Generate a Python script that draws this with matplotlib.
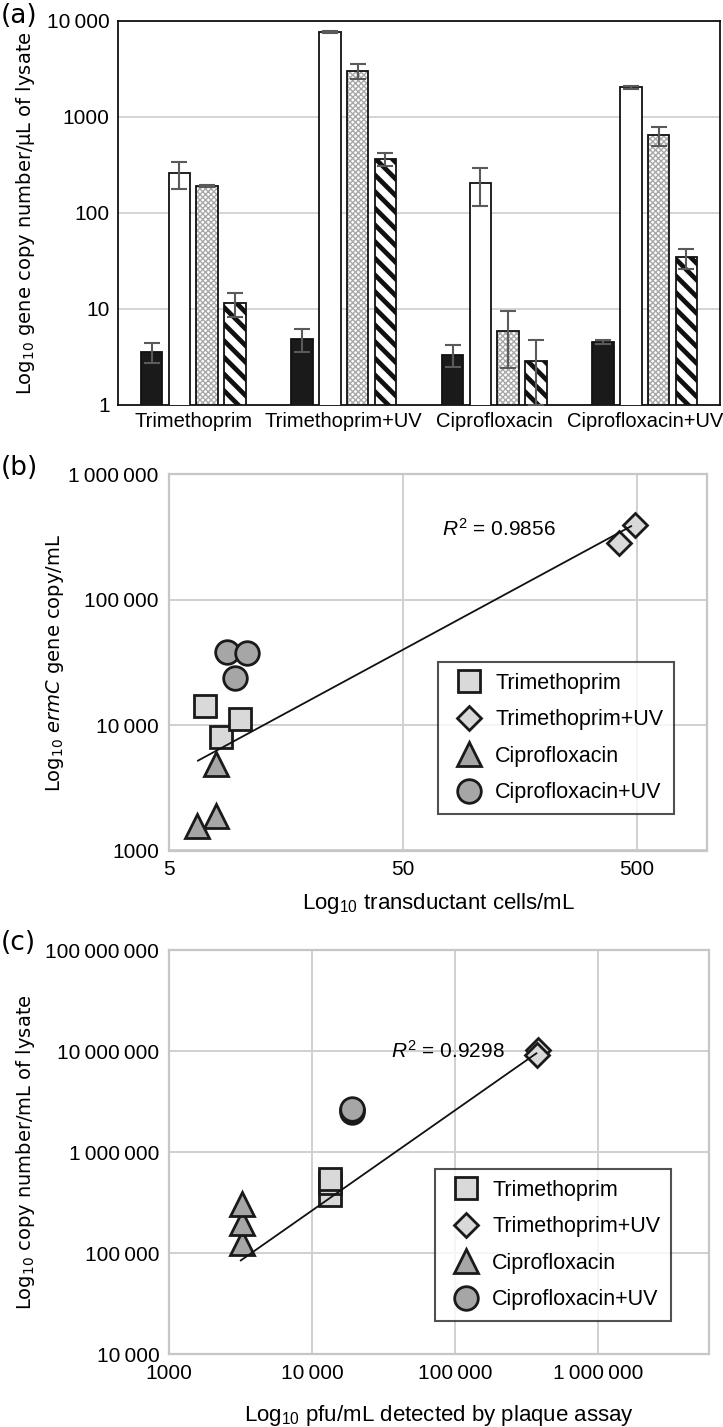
import numpy as np
import matplotlib
matplotlib.use('Agg')
import matplotlib.pyplot as plt
from matplotlib import font_manager as fm
from matplotlib.lines import Line2D
from matplotlib.ticker import NullLocator, FixedLocator, FixedFormatter

names = {f.name for f in fm.fontManager.ttflist}
SANS = 'Liberation Sans' if 'Liberation Sans' in names else 'DejaVu Sans'
ROUND = 'DejaVu Sans'
plt.rcParams['mathtext.fontset'] = 'custom'
plt.rcParams['mathtext.rm'] = SANS
plt.rcParams['mathtext.it'] = SANS + ':italic'
plt.rcParams['font.family'] = [SANS, 'DejaVu Sans']

# ---------------- data: panel (a) ----------------
categories = ['Trimethoprim', 'Trimethoprim+UV', 'Ciprofloxacin', 'Ciprofloxacin+UV']
bar_black = [3.6, 4.9, 3.35, 4.5]
bar_black_sd = [0.85, 1.3, 0.85, 0.23]
bar_white = [259, 7550, 205, 2030]
bar_white_sd = [80, 180, 87, 65]
bar_dots = [192, 3000, 5.95, 645]
bar_dots_sd = [4, 535, 3.55, 145]
bar_stripes = [11.4, 365, 2.85, 34.3]
bar_stripes_sd = [3.1, 57, 1.85, 8.0]
a_ticks = [1, 10, 100, 1000, 10000]
a_ticklabels = ['1', '10', '100', '1000', '10\u2009000']

# ---------------- data: panel (b) ----------------
b_trim_x = [7.16, 8.38, 10.1]
b_trim_y = [14200, 8040, 11200]
b_trimuv_x = [421, 492]
b_trimuv_y = [282000, 395000]
b_cipro_x = [7.95, 7.95, 6.63]
b_cipro_y = [4900, 1890, 1570]
b_ciprouv_x = [8.89, 10.82, 9.62]
b_ciprouv_y = [38300, 37600, 23800]
b_trend_x = [6.68, 473]
b_trend_y = [5210, 387000]
b_r2 = '0.9856'
b_xticks = [5, 50, 500]
b_xticklabels = ['5', '50', '500']
b_yticks = [1000, 10000, 100000, 1000000]
b_yticklabels = ['1000', '10\u2009000', '100\u2009000', '1\u2009000\u2009000']

# ---------------- data: panel (c) ----------------
c_trim_x = [13400, 13400, 13400]
c_trim_y = [378000, 493000, 545000]
c_trimuv_x = [383000, 378000]
c_trimuv_y = [10200000, 9200000]
c_cipro_x = [3220, 3220, 3220]
c_cipro_y = [127000, 198000, 310000]
c_ciprouv_x = [19100, 19100, 19100]
c_ciprouv_y = [2520000, 2600000, 2670000]
c_trend_x = [3180, 372000]
c_trend_y = [85000, 9550000]
c_r2 = '0.9298'
c_xticks = [1000, 10000, 100000, 1000000]
c_xticklabels = ['1000', '10\u2009000', '100\u2009000', '1\u2009000\u2009000']
c_yticks = [10000, 100000, 1000000, 10000000, 100000000]
c_yticklabels = ['10\u2009000', '100\u2009000', '1\u2009000\u2009000',
                 '10\u2009000\u2009000', '100\u2009000\u2009000']

series_names = ['Trimethoprim', 'Trimethoprim+UV', 'Ciprofloxacin', 'Ciprofloxacin+UV']

W, H = 723, 1427
fig = plt.figure(figsize=(W / 100, H / 100), dpi=100)


def fx(px):
    return px / W


def fy(py):
    return 1 - py / H


def axes_px(l, t, r, b):
    return fig.add_axes([fx(l), fy(b), (r - l) / W, (b - t) / H])


# ================= panel (a) =================
axA = axes_px(118, 20.7, 720, 405)
axA.set_yscale('log')
axA.set_ylim(1, 10000)
axA.set_xlim(-0.5, 3.5)
x = np.arange(len(categories))
offs = [-0.276, -0.092, 0.092, 0.276]
bw = 0.143


def draw_bars(xpos, vals, sd, face, hatch=None, hcolor=None, hlw=1.0):
    if hatch is not None:
        with plt.rc_context({'hatch.linewidth': hlw}):
            base = axA.bar(xpos, vals, bw, color=face, edgecolor=hcolor,
                           linewidth=0, hatch=hatch, zorder=2)
        for p in base:
            if hasattr(p, 'set_hatch_linewidth'):
                p.set_hatch_linewidth(hlw)
        axA.bar(xpos, vals, bw, facecolor='none', edgecolor='#111111',
                linewidth=1.3, zorder=3)
    else:
        axA.bar(xpos, vals, bw, color=face, edgecolor='#111111',
                linewidth=1.3, zorder=3)
    axA.errorbar(xpos, vals, yerr=sd, fmt='none', ecolor='#5a5a5a',
                 elinewidth=1.5, capsize=5.5, capthick=1.5, zorder=5)


draw_bars(x + offs[0], bar_black, bar_black_sd, '#1a1a1a')
draw_bars(x + offs[1], bar_white, bar_white_sd, 'white')
draw_bars(x + offs[2], bar_dots, bar_dots_sd, 'white', hatch='xxxxxx',
          hcolor='#a8a8a8', hlw=1.0)
draw_bars(x + offs[3], bar_stripes, bar_stripes_sd, 'white', hatch='\\\\',
          hcolor='#111111', hlw=3.4)

axA.yaxis.set_major_locator(FixedLocator(a_ticks))
axA.yaxis.set_major_formatter(FixedFormatter(a_ticklabels))
axA.yaxis.set_minor_locator(NullLocator())
axA.set_xticks(x)
axA.set_xticklabels(categories, fontsize=14.5)
axA.tick_params(axis='y', length=0, labelsize=15, pad=6)
axA.tick_params(axis='x', length=0, pad=5)
axA.yaxis.grid(True, color='#d4d4d4', lw=1.4)
axA.set_axisbelow(True)
for s in axA.spines.values():
    s.set_color('#111111')
    s.set_linewidth(1.3)

fig.text(fx(26), fy(213), 'Log$_{10}$ gene copy number/\u00b5L of lysate',
         rotation=90, ha='center', va='center', fontsize=14,
         fontfamily=ROUND, math_fontfamily='dejavusans')

# ================= scatter panels =================
styles = {
    'Trimethoprim': dict(marker='s', ms=16, mfc='#d9d9d9'),
    'Trimethoprim+UV': dict(marker='D', ms=12, mfc='#d9d9d9'),
    'Ciprofloxacin': dict(marker='^', ms=17, mfc='#a6a6a6'),
    'Ciprofloxacin+UV': dict(marker='o', ms=17, mfc='#a6a6a6'),
}


def style_scatter(ax, xlim, ylim, xt, xtl, yt, ytl):
    ax.set_xscale('log')
    ax.set_yscale('log')
    ax.set_xlim(*xlim)
    ax.set_ylim(*ylim)
    ax.xaxis.set_major_locator(FixedLocator(xt))
    ax.xaxis.set_major_formatter(FixedFormatter(xtl))
    ax.yaxis.set_major_locator(FixedLocator(yt))
    ax.yaxis.set_major_formatter(FixedFormatter(ytl))
    ax.xaxis.set_minor_locator(NullLocator())
    ax.yaxis.set_minor_locator(NullLocator())
    ax.tick_params(axis='both', length=0, labelsize=15)
    ax.tick_params(axis='x', pad=7)
    ax.tick_params(axis='y', pad=7)
    ax.grid(True, color='#d0d0d0', lw=1.4)
    ax.set_axisbelow(True)
    for s in ax.spines.values():
        s.set_color('#c6c6c6')
        s.set_linewidth(1.6)


def plot_series(ax, xs, ys, name):
    st = styles[name]
    ax.plot(xs, ys, ls='none', marker=st['marker'], ms=st['ms'],
            mfc=st['mfc'], mec='#1a1a1a', mew=2.0, zorder=3)


def add_legend(ax, left_px, top_px):
    handles = [Line2D([], [], ls='none', marker=styles[n]['marker'],
                      ms=styles[n]['ms'], mfc=styles[n]['mfc'],
                      mec='#1a1a1a', mew=2.0) for n in series_names]
    leg = fig.legend(handles, series_names, loc='upper left',
                     bbox_to_anchor=(fx(left_px), fy(top_px)),
                     bbox_transform=fig.transFigure, frameon=True,
                     fancybox=False, fontsize=15.5, handlelength=1.88,
                     handletextpad=0.27, labelspacing=0.72, borderpad=0.5,
                     borderaxespad=0)
    fr = leg.get_frame()
    fr.set_edgecolor('#262626')
    fr.set_linewidth(1.5)
    fr.set_facecolor('white')
    return leg


# ---- (b)
axB = axes_px(168.5, 474.5, 707.3, 850.5)
style_scatter(axB, (5, 1000), (1000, 1e6), b_xticks, b_xticklabels,
              b_yticks, b_yticklabels)
plot_series(axB, b_trim_x, b_trim_y, 'Trimethoprim')
plot_series(axB, b_trimuv_x, b_trimuv_y, 'Trimethoprim+UV')
plot_series(axB, b_cipro_x, b_cipro_y, 'Ciprofloxacin')
plot_series(axB, b_ciprouv_x, b_ciprouv_y, 'Ciprofloxacin+UV')
axB.plot(b_trend_x, b_trend_y, color='#111111', lw=1.3, zorder=4)
axB.text(73.3, 367000, '$R^{2}$ = ' + b_r2, fontsize=15, ha='left',
         va='center', zorder=5)
add_legend(axB, 438, 662)
fig.text(fx(55), fy(663), 'Log$_{10}$ $\\mathit{ermC}$ gene copy/mL',
         rotation=90, ha='center', va='center', fontsize=14,
         fontfamily=ROUND, math_fontfamily='dejavusans')
fig.text(fx(438), fy(903), 'Log$_{10}$ transductant cells/mL', ha='center',
         va='center', fontsize=16)

# ---- (c)
axC = axes_px(169, 950.3, 709, 1354.3)
style_scatter(axC, (1000, 6.0e6), (1e4, 1e8), c_xticks, c_xticklabels,
              c_yticks, c_yticklabels)
plot_series(axC, c_trim_x, c_trim_y, 'Trimethoprim')
plot_series(axC, c_trimuv_x, c_trimuv_y, 'Trimethoprim+UV')
plot_series(axC, c_cipro_x, c_cipro_y, 'Ciprofloxacin')
plot_series(axC, c_ciprouv_x, c_ciprouv_y, 'Ciprofloxacin+UV')
axC.plot(c_trend_x, c_trend_y, color='#111111', lw=1.3, zorder=4)
axC.text(36000, 1.0e7, '$R^{2}$ = ' + c_r2, fontsize=15, ha='left',
         va='center', zorder=2)
add_legend(axC, 435, 1169)
fig.text(fx(26), fy(1152), 'Log$_{10}$ copy number/mL of lysate',
         rotation=90, ha='center', va='center', fontsize=14,
         fontfamily=ROUND, math_fontfamily='dejavusans')
fig.text(fx(439), fy(1415), 'Log$_{10}$ pfu/mL detected by plaque assay',
         ha='center', va='center', fontsize=16)

# ---- panel letters
for lbl, ypx in (('(a)', 16), ('(b)', 468), ('(c)', 943)):
    fig.text(fx(1), fy(ypx), lbl, ha='left', va='center', fontsize=19,
             fontfamily=ROUND)

fig.savefig('out.png', dpi=100)
